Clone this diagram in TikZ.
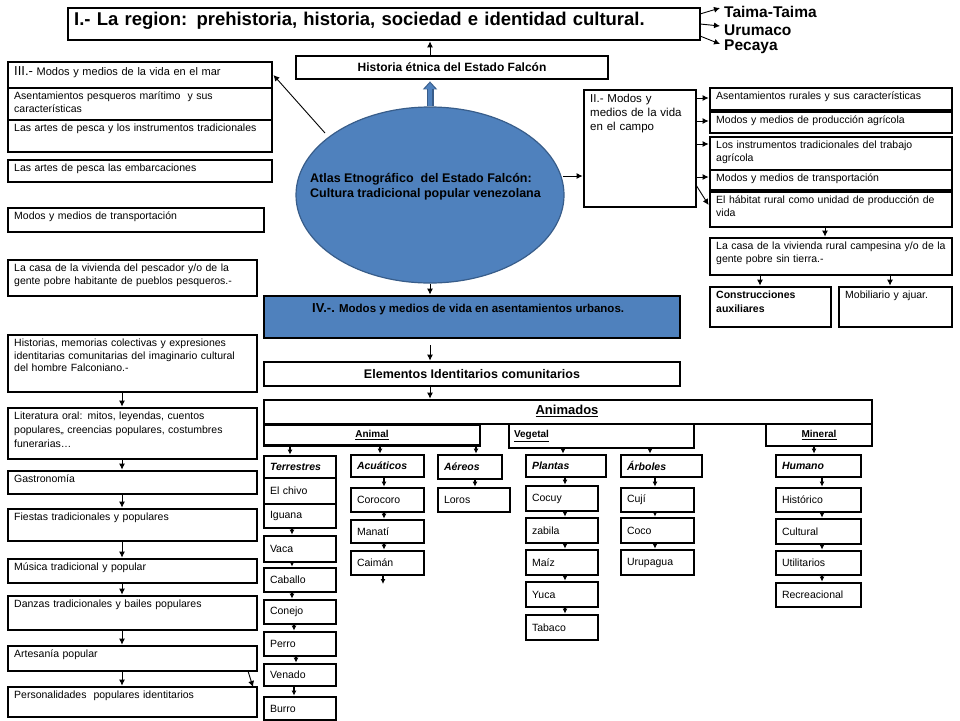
\documentclass[tikz,border=0pt]{standalone}
\usepackage{fontspec}
\setmainfont{Liberation Sans}
\hyphenpenalty=10000 \exhyphenpenalty=10000
\usetikzlibrary{arrows.meta,shapes.geometric}
\definecolor{fblue}{HTML}{4F81BD}
\definecolor{dblue}{HTML}{385D8A}
\tikzset{
 box/.style={draw=black,line width=2.8pt,inner sep=0pt},
 txt/.style={anchor=north west,inner sep=1pt,align=left,font=\fontsize{10.5}{12.5}\selectfont},
 arr/.style={-{Latex[length=6pt,width=6pt]},line width=0.9pt},
 sarr/.style={-{Latex[length=5pt,width=5pt]},line width=1.3pt},
}
\newcommand\bx[7][]{%
 \pgfmathsetmacro\bxw{#5-#3}\pgfmathsetmacro\bxh{#6-#4}%
 \pgfmathsetmacro\bxcx{(#3+#5)/2}\pgfmathsetmacro\bxcy{(#4+#6)/2}%
 \pgfmathsetmacro\bxt{#5-#3-10}%
 \node[box,minimum width=\bxw pt,minimum height=\bxh pt] (#2) at (\bxcx,\bxcy) {};
 \node[txt,text width=\bxt pt,#1] (#2t) at (#3+5,#4+3) {#7};}
\newcommand\sbx[7][sub]{\pgfmathsetmacro\bxw{#5-#3}\pgfmathsetmacro\bxh{#6-#4}\pgfmathsetmacro\bxt{#5-#3-12}%
 \node[#1,minimum width=\bxw pt,minimum height=\bxh pt,text width=\bxt pt] (#2) at ({(#3+#5)/2},{(#4+#6)/2}) {#7};}
\begin{document}
\begin{tikzpicture}[x=1pt,y=-1pt]
\useasboundingbox (0,0) rectangle (960,720);
% title
\bx[font=\fontsize{18.5}{20}\selectfont\bfseries]{title}{68}{8}{700}{40}{I.- La region: prehistoria, historia, sociedad e identidad cultural.}
\coordinate (t1) at (720,8); \coordinate (t2) at (720,26); \coordinate (t3) at (720,44);
\draw[arr] (700,14) -- (t1);
\draw[arr] (700,24) -- (t2);
\draw[arr] (700,36) -- (t3);
\node[anchor=west,inner sep=0pt,font=\fontsize{15.5}{17}\selectfont\bfseries] (tt) at (724,12) {Taima-Taima};
\node[anchor=west,inner sep=0pt,font=\fontsize{15.5}{17}\selectfont\bfseries] (uu) at (724,30) {Urumaco};
\node[anchor=west,inner sep=0pt,font=\fontsize{15.5}{17}\selectfont\bfseries] (pp) at (724,47) {Pecaya};
% historia
\node[box,minimum width=312pt,minimum height=23pt,font=\fontsize{12}{14}\selectfont\bfseries] (hist) at (452,67.5) {Historia étnica del Estado Falcón};
\draw[arr] (hist.north -| 430,0) -- (title.south -| 430,0);
% ellipse
\node[ellipse,draw=dblue,line width=1.2pt,fill=fblue,minimum width=268pt,minimum height=176pt] (ell) at (430,195) {};
\node[anchor=west,align=left,inner sep=0pt,font=\fontsize{12.5}{15}\selectfont\bfseries] (ellt) at (310,187) {Atlas Etnográfico\ \ del Estado Falcón:\\Cultura tradicional popular venezolana};
\draw[line width=7pt,dblue,-{Triangle[length=8pt,width=14pt]}] (ell.north) -- ([yshift=-1pt]hist.south -| 430,0);
\draw[line width=4pt,fblue,-{Triangle[length=6pt,width=10pt]}] (ell.north) -- ([yshift=-2.5pt]hist.south -| 430,0);
% left column
\bx[font=\fontsize{11}{13}\selectfont]{m0}{8}{62}{272}{88}{{\fontsize{13}{14}\selectfont III.-} Modos y medios de la vida en el mar}
\bx{m1}{8}{88}{272}{120}{Asentamientos pesqueros marítimo\ \ y sus características}
\bx{m2}{8}{120}{272}{152}{Las artes de pesca y los instrumentos tradicionales}
\bx{m3}{8}{160}{272}{182}{Las artes de pesca las embarcaciones}
\bx{m4}{8}{208}{264}{232}{Modos y medios de transportación}
\bx{m5}{8}{260}{257}{296}{La casa de la vivienda del pescador y/o de la gente pobre habitante de pueblos pesqueros.-}
\bx{h1}{8}{335}{257}{392}{Historias, memorias colectivas y expresiones identitarias comunitarias del imaginario cultural del hombre Falconiano.-}
\bx[font=\fontsize{10.5}{14}\selectfont]{h2}{8}{408}{257}{459}{Literatura oral: mitos, leyendas, cuentos populares,, creencias populares, costumbres funerarias…}
\bx{h3}{8}{471}{257}{494}{Gastronomía}
\bx{h4}{8}{509}{257}{541}{Fiestas tradicionales y populares}
\bx{h5}{8}{559}{257}{583}{Música tradicional y popular}
\bx{h6}{8}{596}{257}{630}{Danzas tradicionales y bailes populares}
\bx{h7}{8}{646}{257}{671}{Artesanía popular}
\bx{h8}{8}{687}{257}{717}{Personalidades\ \ populares identitarios}
\foreach \a/\b in {h1/h2,h2/h3,h3/h4,h4/h5,h5/h6,h6/h7,h7/h8}
  \draw[arr] (\a.south -| 122,0) -- (\b.north -| 122,0);
\draw[arr] (248,671) -- (253,687);
\draw[arr] (325,133) -- (m0.east);
% IV
\node[box,fill=fblue,minimum width=416pt,minimum height=42pt] (iv) at (472,317) {};
\node[anchor=north west,inner sep=0pt,font=\fontsize{11.5}{13}\selectfont\bfseries] (ivt) at (312,303) {{\fontsize{13}{14}\selectfont IV.-.} Modos y medios de vida en asentamientos urbanos.};
\draw[arr] (ell.south) -- (iv.north -| 430,0);
\node[box,minimum width=416pt,minimum height=24pt,font=\fontsize{12.5}{14}\selectfont\bfseries] (elem) at (472,374) {Elementos Identitarios comunitarios};
\draw[arr] (430,345) -- (elem.north -| 430,0);
\node[box,minimum width=608pt,minimum height=24pt] (anim) at (568,412) {};
\node[inner sep=0pt,font=\fontsize{13}{14}\selectfont\bfseries] (animt) at (567,411) {\underline{Animados}};
\draw[arr] (elem.south -| 430,0) -- (anim.north -| 430,0);
\tikzset{cat/.style={box,fill=white,font=\fontsize{10}{12}\selectfont\bfseries}}
\node[cat,minimum width=216pt,minimum height=21pt] (animal) at (372,435) {\underline{Animal}};
\node[cat,minimum width=185pt,minimum height=24pt,text width=175pt,align=left] (veg) at (601.5,436) {\underline{Vegetal}};
\node[cat,minimum width=106pt,minimum height=22pt] (min) at (819,435) {\underline{Mineral}};
% subcategories
\tikzset{sub/.style={box,font=\fontsize{10.5}{12}\selectfont\bfseries\itshape,align=left},
 it/.style={box,font=\fontsize{10.5}{12}\selectfont,align=left}}
\sbx{ter}{264}{456}{336}{478}{Terrestres}
\sbx{acu}{351}{455}{424}{477}{Acuáticos}
\sbx{aer}{438}{455}{502}{479}{Aéreos}
\sbx{pla}{526}{455}{606}{477}{Plantas}
\sbx{arb}{621}{455}{702}{477}{Árboles}
\sbx{hum}{776}{455}{861}{477}{Humano}
\sbx[it]{ta}{264}{478}{336}{504}{El chivo}
\sbx[it]{tb}{264}{504}{336}{528}{Iguana}
\sbx[it]{tc}{264}{536}{336}{562}{Vaca}
\sbx[it]{td}{264}{568}{336}{592}{Caballo}
\sbx[it]{te}{264}{600}{336}{624}{Conejo}
\sbx[it]{tf}{264}{632}{336}{656}{Perro}
\sbx[it]{tg}{264}{664}{336}{686}{Venado}
\sbx[it]{th}{264}{697}{336}{720}{Burro}
\sbx[it]{aa}{351}{488}{424}{512}{Corocoro}
\sbx[it]{ab}{351}{520}{424}{543}{Manatí}
\sbx[it]{ac}{351}{551}{424}{575}{Caimán}
\sbx[it]{ra}{438}{488}{510}{512}{Loros}
\sbx[it]{pa}{526}{486}{598}{511}{Cocuy}
\sbx[it]{pb}{526}{518}{598}{543}{zabila}
\sbx[it]{pc}{526}{550}{598}{575}{Maíz}
\sbx[it]{pd}{526}{582}{598}{607}{Yuca}
\sbx[it]{pe}{526}{615}{598}{640}{Tabaco}
\sbx[it]{ba}{621}{488}{694}{512}{Cují}
\sbx[it]{bb}{621}{518}{694}{543}{Coco}
\sbx[it]{bc}{621}{550}{694}{575}{Urupagua}
\sbx[it]{ua}{776}{488}{861}{512}{Histórico}
\sbx[it]{ub}{776}{519}{861}{544}{Cultural}
\sbx[it]{uc}{776}{551}{861}{575}{Utilitarios}
\sbx[it]{ud}{776}{583}{861}{607}{Recreacional}
% small arrows
\foreach \a/\b/\x in {animal/ter/290,animal/acu/380,aer/ra/475,pla/pa/565,pa/pb/565,pb/pc/565,pc/pd/565,pd/pe/565,
  acu/aa/384,aa/ab/384,ab/ac/384,arb/ba/655,ba/bb/655,bb/bc/655,hum/ua/822,ua/ub/822,ub/uc/822,uc/ud/822,
  tb/tc/292,tc/td/292,td/te/292,te/tf/294,tf/tg/296,tg/th/294,veg/pla/563,veg/arb/650,min/hum/814}
  {\draw[sarr] (\a.south -| \x,0) -- (\b.north -| \x,0);}
\draw[sarr] (animal.south -| 476,0) -- (aer.north -| 476,0);
\coordinate (cb) at (383,584);
\draw[sarr] (ac.south -| cb) -- (cb);
% right side
\bx[font=\fontsize{11.5}{14}\selectfont]{ii}{584}{90}{696}{207}{II.- Modos y medios de la vida en el campo}
\draw[arr] (563,176) -- (ii.west |- 0,176);
\bx{r1}{710}{88}{952}{110}{Asentamientos rurales y sus características}
\bx{r2}{710}{112}{952}{133}{Modos y medios de producción agrícola}
\bx{r3}{710}{137}{952}{170}{Los instrumentos tradicionales del trabajo agrícola}
\bx{r4}{710}{170}{952}{190}{Modos y medios de transportación}
\bx{r5}{710}{192}{952}{227}{El hábitat rural como unidad de producción de vida}
\foreach \b/\y in {r1/98,r2/121,r3/144,r4/177} \draw[arr] (696,\y) -- (\b.west |- 0,\y);
\draw[arr] (696,185) -- (r5.west |- 0,205);
\bx{r6}{710}{238}{952}{275}{La casa de la vivienda rural campesina y/o de la gente pobre sin tierra.-}
\draw[arr] (r5.south -| 825,0) -- (r6.north -| 825,0);
\bx[font=\fontsize{10.5}{14}\selectfont\bfseries]{r7}{710}{287}{831}{327}{Construcciones auxiliares}
\bx{r8}{839}{287}{952}{327}{Mobiliario y ajuar.}
\draw[arr] (r6.south -| 760,0) -- (r7.north -| 760,0);
\draw[arr] (r6.south -| 890,0) -- (r8.north -| 890,0);
\end{tikzpicture}
\end{document}
